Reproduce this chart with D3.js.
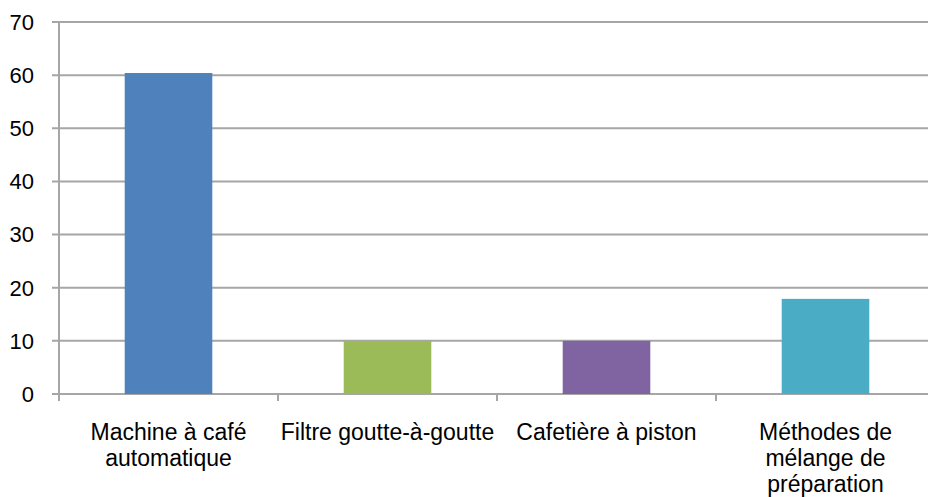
<!DOCTYPE html>
<html>
<head>
<meta charset="utf-8">
<script src="https://cdn.jsdelivr.net/npm/d3@7"></script>
<style>
  body { margin: 0; background: #fff; }
  svg text { font-family: Arial, "Liberation Sans", sans-serif; fill: #000; }
</style>
</head>
<body>
<div id="main"></div>
<script>
// ====================== data ======================
var categories = ['Machine à café automatique', 'Filtre goutte-à-goutte', 'Cafetière à piston', 'Méthodes de mélange de préparation'];
var labelLines = [
	['Machine à café', 'automatique'],
	['Filtre goutte-à-goutte'],
	['Cafetière à piston'],
	['Méthodes de', 'mélange de', 'préparation']
];
var values = [60.4, 10, 10, 17.9];
var barColors = ['#4F81BD', '#9BBB59', '#8064A2', '#4BACC6'];
var yTicks = [0, 10, 20, 30, 40, 50, 60, 70];

// ====================== layout ======================
const W = 928, H = 497;
const plot = { left: 59, right: 935, top: 22, bottom: 394 };
const gridColor = '#a6a6a6';

const svg = d3.select('#main').append('svg')
	.attr('width', W)
	.attr('height', H);

var x = d3.scaleBand()
	.domain(categories)
	.range([plot.left, plot.right])
	.paddingInner(0.6)
	.paddingOuter(0.3);

var y = d3.scaleLinear()
	.domain([0, 70])
	.range([plot.bottom, plot.top]);

// horizontal gridlines (incl. the 0 line)
svg.append('g').selectAll('line')
	.data(yTicks)
	.enter().append('line')
	.attr('x1', plot.left - 7)
	.attr('x2', plot.right)
	.attr('y1', d => y(d))
	.attr('y2', d => y(d))
	.attr('stroke', gridColor)
	.attr('stroke-width', 2);

// y tick labels
svg.append('g').selectAll('text')
	.data(yTicks)
	.enter().append('text')
	.attr('x', 34)
	.attr('y', d => y(d))
	.attr('dy', '0.36em')
	.attr('text-anchor', 'end')
	.style('font-size', '22px')
	.text(d => d);

// y axis line
svg.append('line')
	.attr('x1', plot.left).attr('x2', plot.left)
	.attr('y1', plot.top).attr('y2', plot.bottom + 7)
	.attr('stroke', gridColor)
	.attr('stroke-width', 2);

// category boundary ticks under the x axis
svg.append('g').selectAll('line')
	.data(categories.slice(1))
	.enter().append('line')
	.attr('x1', d => x(d) - x.step() * x.paddingOuter())
	.attr('x2', d => x(d) - x.step() * x.paddingOuter())
	.attr('y1', plot.bottom)
	.attr('y2', plot.bottom + 7)
	.attr('stroke', gridColor)
	.attr('stroke-width', 2);

// bars
svg.append('g').selectAll('rect')
	.data(values)
	.enter().append('rect')
	.attr('x', (d, i) => x(categories[i]))
	.attr('width', x.bandwidth())
	.attr('y', d => y(d))
	.attr('height', d => y(0) - y(d))
	.style('fill', (d, i) => barColors[i]);

// category labels
var lab = svg.append('g').selectAll('text')
	.data(categories)
	.enter().append('text')
	.attr('text-anchor', 'middle')
	.attr('x', d => x(d) + x.bandwidth() / 2)
	.attr('y', 440)
	.style('font-size', '23px');

lab.selectAll('tspan')
	.data((d, i) => labelLines[i])
	.enter().append('tspan')
	.attr('x', function(){ return d3.select(this.parentNode).attr('x'); })
	.attr('dy', (d, i) => i == 0 ? 0 : 26)
	.text(d => d);
</script>
</body>
</html>
